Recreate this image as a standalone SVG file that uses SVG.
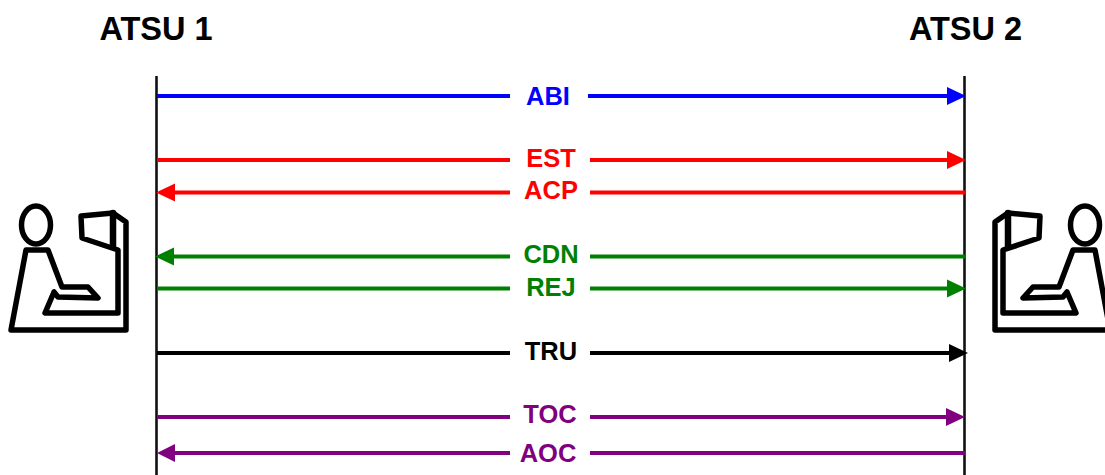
<svg xmlns="http://www.w3.org/2000/svg" width="1105" height="475" viewBox="0 0 1105 475">
<style>
text{font-family:"Liberation Sans",Arial,sans-serif;font-weight:bold;text-anchor:middle}
.h{font-size:32.500px;fill:#000}
.l{font-size:25.500px}
.life{stroke:#111;stroke-width:2.600;fill:none}
.c{stroke-width:4;fill:none}
.icon{fill:none;stroke:#000;stroke-width:5.500;stroke-linejoin:round;stroke-linecap:round}
</style>
<defs>
<g id="op">
<ellipse cx="36" cy="225" rx="14.5" ry="19"/>
<path d="M48 250L62 287H88L98 298L58 297L54 292L45 313H118V250L82 238L81 216L113 213L126 222V330H11L26 250Z"/>
<path d="M113 213V246" stroke-width="6.500"/>
</g>
</defs>
<rect width="1105" height="475" fill="#fff"/>
<g id="connectors">
<path class="life" d="M156.500 76V475"/>
<path class="life" d="M964.500 76V475"/>
<path class="c" stroke="#00f" d="M157 96H510M588 96H950"/><path fill="#00f" d="M966 96L947 87V105Z"/>
<path class="c" stroke="#f00" d="M157 160H510M590 160H950"/><path fill="#f00" d="M966 160L947 151V169Z"/>
<path class="c" stroke="#f00" d="M172 192.500H510M590 192.500H965"/><path fill="#f00" d="M156 192.500L175 183.500V201.500Z"/>
<path class="c" stroke="#008000" d="M172 256.500H510M590 256.500H965"/><path fill="#008000" d="M155 256.500L174 247.500V265.500Z"/>
<path class="c" stroke="#008000" d="M157 288.500H510M590 288.500H950"/><path fill="#008000" d="M966 288.500L947 279.500V297.500Z"/>
<path class="c" stroke="#000" d="M157 353H510M590 353H950"/><path fill="#000" d="M968 353L949 344V362Z"/>
<path class="c" stroke="#800080" d="M157 417H510M590 417H950"/><path fill="#800080" d="M965 417L946 408V426Z"/>
<path class="c" stroke="#800080" d="M172 453H510M590 453H965"/><path fill="#800080" d="M157 453L175 444V462Z"/>
</g>
<g id="atsu1"><text class="h" x="156" y="40">ATSU 1</text></g>
<g id="atsu2"><text class="h" x="965.500" y="40">ATSU 2</text></g>
<g id="operator1" class="icon"><use href="#op"/></g>
<g id="operator2" class="icon"><use href="#op" transform="matrix(-1 0 0 1 1121 0)"/></g>
<g id="labels" class="l">
<text x="548" y="105" fill="#00f">ABI</text>
<text x="551" y="167" fill="#f00">EST</text>
<text x="551" y="199" fill="#f00">ACP</text>
<text x="551" y="263" fill="#008000">CDN</text>
<text x="551" y="296" fill="#008000">REJ</text>
<text x="551" y="360" fill="#000">TRU</text>
<text x="550" y="423" fill="#800080">TOC</text>
<text x="548" y="462" fill="#800080">AOC</text>
</g>
</svg>
